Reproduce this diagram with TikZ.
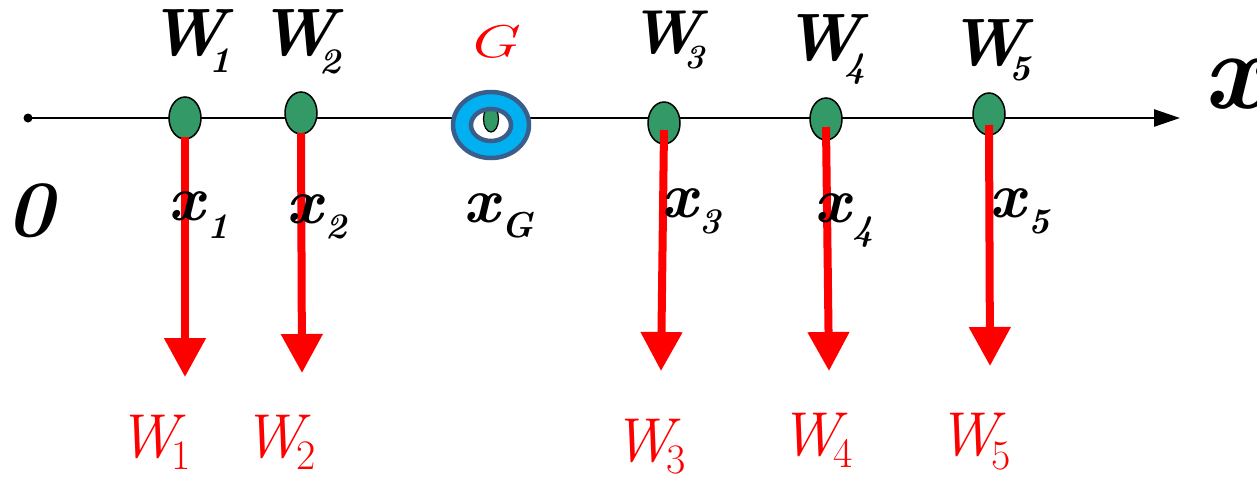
\documentclass[tikz,border=0pt]{standalone}
\usepackage{fontspec}
\usetikzlibrary{arrows.meta,shapes.geometric,calc}
\definecolor{dotgreen}{RGB}{51,153,102}
\definecolor{ringcyan}{RGB}{0,176,240}
\definecolor{ringedge}{RGB}{58,94,140}
\newcommand{\mylab}[6]{{\fontsize{#1pt}{#1pt}\selectfont #2}\kern #3pt\raisebox{-#4pt}{\fontsize{#5pt}{#5pt}\selectfont #6}}
\tikzset{
  lab/.style={anchor=base west,inner sep=0pt,outer sep=0pt},
  blacklab/.style={lab,font=\rmfamily\bfseries\itshape,text=black},
  redlab/.style={lab,font=\rmfamily\itshape,text=red},
  wdot/.style={ellipse,draw=black,line width=1.5pt,fill=dotgreen,minimum width=32pt,minimum height=42pt,inner sep=0pt},
  axisline/.style={line width=2.5pt,-{Triangle[length=26pt,width=17pt]}},
  force/.style={draw=red,line width=8pt,-{Triangle[length=39pt,width=40pt]},red}
}
\begin{document}
\begin{tikzpicture}[x=1pt,y=-1pt]
\useasboundingbox (0,0) rectangle (1257,477);
% axis
\coordinate (o) at (28,118);
\coordinate (xend) at (1180,118);
\draw[axisline] (o) -- (xend);
\fill (o) circle (4.5pt);
% centre of gravity ring
\coordinate (g) at (491,125);
\fill[ringcyan,even odd rule] (g) ellipse [x radius=39pt,y radius=34pt] (g) ellipse [x radius=20pt,y radius=16pt];
\fill[white] (g) ellipse [x radius=20pt,y radius=16pt];
\begin{scope}
\clip (g) ellipse [x radius=20pt,y radius=16pt];
\node[wdot,minimum width=15pt,minimum height=26pt,line width=1.2pt] (dg) at (491,119) {};
\end{scope}
\draw[ringedge,line width=4.5pt] (g) ellipse [x radius=38pt,y radius=33pt];
\draw[ringedge,line width=4.5pt] (g) ellipse [x radius=20pt,y radius=16pt];
% weight points
\node[wdot] (d1) at (185,118) {};
\node[wdot] (d2) at (301,113) {};
\node[wdot] (d3) at (664,123) {};
\node[wdot] (d4) at (826,119) {};
\node[wdot] (d5) at (989,114) {};
% force arrows
\coordinate (t1) at (185,377);
\coordinate (t2) at (302,373);
\coordinate (t3) at (661,371);
\coordinate (t4) at (829,371);
\coordinate (t5) at (990,366);
\draw[force] ([yshift=-19pt]d1.center) -- (t1);
\draw[force] ([yshift=-20pt]d2.center) -- (t2);
\draw[force] ([yshift=-7pt]d3.center) -- (t3);
\draw[force] ([yshift=-8pt]d4.center) -- (t4);
\draw[force] ([yshift=-11pt]d5.center) -- (t5);
% top labels
\node[blacklab] (lw1) at (148,55) {\mylab{67}{W}{-16}{17}{36}{1}};
\node[blacklab] (lw2) at (258,55) {\mylab{67}{W}{-16}{18}{36}{2}};
\node[blacklab] (lw3) at (629,53) {\mylab{62}{W}{-16}{15}{34}{3}};
\node[blacklab] (lw4) at (783,60) {\mylab{67}{W}{-16}{17}{36}{4}};
\node[blacklab] (lw5) at (948,65) {\mylab{67}{W}{-16}{15}{36}{5}};
\node[redlab] (lg) at (466,57) {\fontsize{46pt}{46pt}\selectfont\scalebox{1.45}[1]{G}};
% coordinate labels
\node[blacklab] (lx1) at (168,220) {\mylab{64}{x}{4}{18}{36}{1}};
\node[blacklab] (lx2) at (286,223) {\mylab{64}{x}{4}{15}{36}{2}};
\node[blacklab] (lxg) at (463,222) {\mylab{64}{x}{3}{15}{36}{G}};
\node[blacklab] (lx3) at (661,217) {\mylab{64}{x}{3}{16}{36}{3}};
\node[blacklab] (lx4) at (814,222) {\mylab{64}{x}{3}{18}{36}{4}};
\node[blacklab] (lx5) at (989,217) {\mylab{64}{x}{4}{16}{36}{5}};
\node[blacklab] (l0) at (6,236) {\fontsize{80pt}{80pt}\selectfont 0};
\node[blacklab] (lx) at (1203,108) {\fontsize{110pt}{110pt}\selectfont x};
% force labels
\node[redlab] (bw1) at (117,457) {\mylab{62}{W}{-6}{12}{42}{\upshape 1}};
\node[redlab] (bw2) at (242,457) {\mylab{62}{W}{-6}{12}{42}{\upshape 2}};
\node[redlab] (bw3) at (612,461) {\mylab{62}{W}{-6}{12}{42}{\upshape 3}};
\node[redlab] (bw4) at (779,455) {\mylab{62}{W}{-6}{12}{42}{\upshape 4}};
\node[redlab] (bw5) at (937,455) {\mylab{62}{W}{-6}{14}{42}{\upshape 5}};
\end{tikzpicture}
\end{document}
